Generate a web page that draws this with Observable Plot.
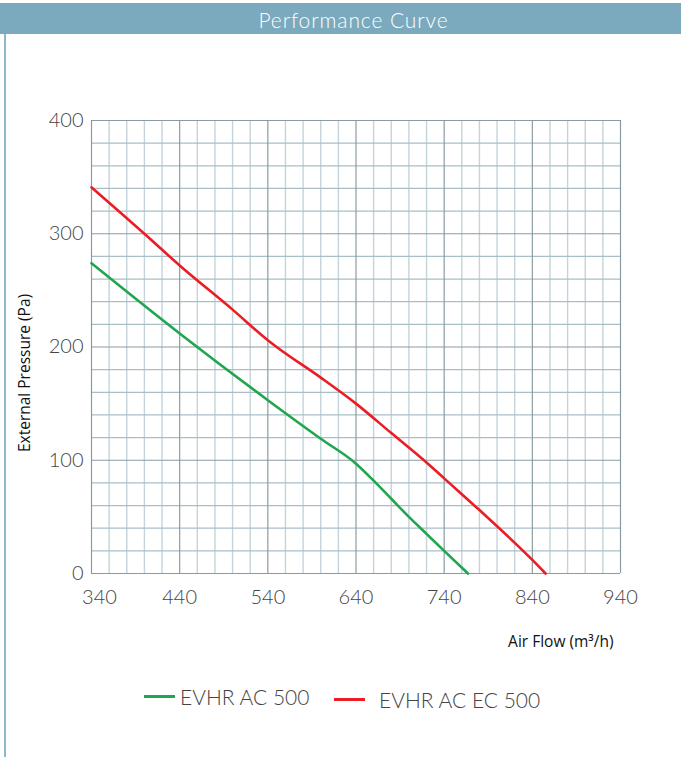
<!DOCTYPE html>
<html><head><meta charset="utf-8">
<script src="https://cdn.jsdelivr.net/npm/d3@7"></script>
<script src="https://cdn.jsdelivr.net/npm/@observablehq/plot@0.6"></script>
<style>
html,body{margin:0;padding:0;background:#fff;}
body{width:681px;height:757px;overflow:hidden;position:relative;font-family:Lato,"Open Sans",sans-serif;}
#header{position:absolute;left:0;top:3px;width:681px;height:31px;background:#7ba9bd;color:#fff;font-family:Lato,sans-serif;font-weight:300;font-size:21px;line-height:33px;text-align:center;box-sizing:border-box;padding-left:26px;letter-spacing:0.9px;}
#border{position:absolute;left:4px;top:34px;width:2px;height:723px;background:#8db7ca;}
#chart{position:absolute;left:0;top:34px;}
#legend{position:absolute;left:0;top:680px;width:681px;height:40px;font-family:Lato,sans-serif;font-weight:300;font-size:21px;color:#444;}
.item{position:absolute;display:flex;align-items:center;}
.sw{display:inline-block;width:31px;height:3px;margin-right:5px;}
</style></head>
<body>
<div id="header">Performance Curve</div>
<div id="border"></div>
<div id="chart"></div>
<div id="legend"></div>
<script>
// Data
const seriesNames = ["EVHR AC 500", "EVHR AC EC 500"];
const seriesColors = ["#1fa64f", "#ec1c24"];
const flowAC = [340, 440, 540, 600, 640, 660, 680, 700, 720, 740, 767];
const pressAC = [274, 212, 153, 119, 97, 82, 66, 50, 35, 20, 0];
const flowEC = [340, 400, 440, 500, 540, 550, 600, 640, 680, 720, 740, 780, 840, 855];
const pressEC = [341, 300, 272, 233, 206, 200, 173, 150, 124, 98, 84, 56, 12, 0];
const xTicks = [340, 440, 540, 640, 740, 840, 940];
const yTicks = [0, 100, 200, 300, 400];
const xGrid = d3.range(340, 941, 20);
const yGrid = d3.range(0, 401, 20);
const xLabel = "Air Flow (m³/h)";
const yLabel = "External Pressure (Pa)";

const dataAC = flowAC.map((f, i) => ({flow: f, pressure: pressAC[i], series: seriesNames[0]}));
const dataEC = flowEC.map((f, i) => ({flow: f, pressure: pressEC[i], series: seriesNames[1]}));

const minorX = xGrid.filter(v => (v - 340) % 100 !== 0);
const majorX = xGrid.filter(v => (v - 340) % 100 === 0);
const minorY = yGrid.filter(v => v % 100 !== 0);
const majorY = yGrid.filter(v => v % 100 === 0);

const tickFont = {fontSize: 20, fontWeight: 300, fill: "#444"};
const labelFont = {fontFamily: "'Open Sans', sans-serif", fontSize: 15.5, fill: "#111"};

const chart = Plot.plot({
  width: 681,
  height: 640,
  marginTop: 86,
  marginBottom: 101,
  marginLeft: 91,
  marginRight: 61,
  style: {fontFamily: "Lato, sans-serif", background: "transparent", overflow: "visible"},
  x: {domain: [340, 940]},
  y: {domain: [0, 400]},
  marks: [
    Plot.ruleX(minorX, {stroke: "#c3d4db", strokeWidth: 1.4}),
    Plot.ruleY(minorY, {stroke: "#a9bec7", strokeWidth: 1.2}),
    Plot.ruleX(majorX, {stroke: "#8a9ca3", strokeWidth: 1.2}),
    Plot.ruleY(majorY, {stroke: "#8a9ca3", strokeWidth: 1.2}),
    Plot.line(dataAC, {x: "flow", y: "pressure", stroke: seriesColors[0], strokeWidth: 2.6, curve: "monotone-x"}),
    Plot.line(dataEC, {x: "flow", y: "pressure", stroke: seriesColors[1], strokeWidth: 2.6, curve: "monotone-x"}),
    Plot.axisX([340], {tickSize: 0, tickPadding: 16, dx: 8, label: null, ...tickFont}),
    Plot.axisX(xTicks.slice(1), {tickSize: 0, tickPadding: 16, label: null, ...tickFont}),
    Plot.axisY(yTicks, {tickSize: 0, tickPadding: 8, label: null, ...tickFont}),
    Plot.text([xLabel], {text: d => d, frameAnchor: "bottom-right", textAnchor: "end", lineAnchor: "middle", dx: -7, dy: 69, ...labelFont}),
    Plot.text([yLabel], {text: d => d, frameAnchor: "left", textAnchor: "middle", lineAnchor: "middle", rotate: -90, dx: -66, dy: 26, ...labelFont})
  ]
});
document.getElementById("chart").appendChild(chart);

const legend = document.getElementById("legend");
const pos = [{left: 144, top: 4}, {left: 334, top: 7}];
seriesNames.forEach((name, i) => {
  const it = document.createElement("div");
  it.className = "item";
  it.style.left = pos[i].left + "px";
  it.style.top = pos[i].top + "px";
  const sw = document.createElement("span");
  sw.className = "sw";
  sw.style.background = seriesColors[i];
  if (i === 1) sw.style.marginRight = "14px";
  const tx = document.createElement("span");
  tx.textContent = name;
  it.appendChild(sw); it.appendChild(tx);
  legend.appendChild(it);
});
</script>
</body></html>
